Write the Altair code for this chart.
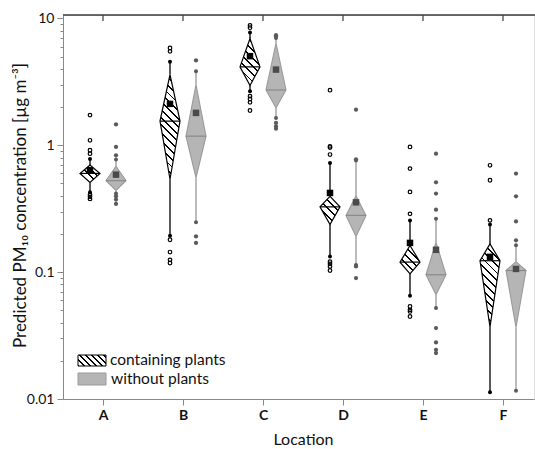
import json
import altair as alt
import numpy as np
import pandas as pd

# ---------------- data ----------------
locations = ["A", "B", "C", "D", "E", "F"]

# containing plants
p_q1 = [0.51, 0.54, 2.96, 0.237, 0.097, 0.037]
p_med = [0.60, 1.55, 4.15, 0.327, 0.120, 0.123]
p_q3 = [0.70, 3.61, 6.95, 0.396, 0.162, 0.167]
p_mean = [0.635, 2.12, 5.04, 0.421, 0.170, 0.132]
p_wlo = [0.426, 0.194, 2.67, 0.133, 0.065, 0.0113]
p_whi = [0.781, 4.55, 7.75, 0.726, 0.255, 0.237]
p_out = [
    [1.73, 1.095, 0.914, 0.859, 0.408, 0.392, 0.378],
    [5.5, 5.85, 0.18, 0.144, 0.125, 0.118],
    [8.8, 8.45, 2.44, 2.32, 2.18, 1.88],
    [2.72, 0.982, 0.96, 0.845, 0.121, 0.116, 0.111, 0.103],
    [0.971, 0.655, 0.429, 0.288, 0.0536, 0.0505, 0.049, 0.0447],
    [0.695, 0.53, 0.256],
]

# without plants
w_q1 = [0.441, 0.553, 1.97, 0.191, 0.0663, 0.0366]
w_med = [0.526, 1.18, 2.73, 0.280, 0.0953, 0.103]
w_q3 = [0.683, 3.01, 6.4, 0.40, 0.172, 0.121]
w_mean = [0.587, 1.80, 3.95, 0.355, 0.150, 0.106]
w_wlo = [0.416, 0.247, 1.64, 0.114, 0.0521, 0.0116]
w_whi = [0.771, 3.84, 7.0, 0.757, 0.264, 0.163]
w_out = [
    [1.46, 0.971, 0.834, 0.396, 0.373, 0.345],
    [4.66, 0.191, 0.170],
    [7.38, 7.2, 1.50, 1.41, 1.35],
    [1.91, 0.775, 0.111, 0.0898],
    [0.859, 0.511, 0.416, 0.311, 0.0362, 0.0279, 0.0244, 0.023],
    [0.598, 0.396, 0.251, 0.178],
]

group_names = ["containing plants", "without plants"]
y_title = "Predicted PM₁₀ concentration [µg m⁻³]"
x_title = "Location"

# ---------------- layout / style ----------------
W, H = 471, 384
PX_PER_CAT = 80.0
X_DOM = [0.5, 0.5 + W / PX_PER_CAT]
Y_DOM = [0.01, 10.64]
DEC_PX = H / np.log10(Y_DOM[1] / Y_DOM[0])
OFF = {"containing plants": -0.1625, "without plants": 0.1625}
HALF = 0.125
FONT = "Lato"
AX_COL = "#3a3a3a"
GRAY_FILL = "#b5b5b5"
GRAY_EDGE = "#9a9a9a"
GRAY_MED = "#8a8a8a"
GRAY_WHISK = "#ababab"
GRAY_DOT = "#5a5a5a"

stats = {
    "containing plants": (p_q1, p_med, p_q3, p_mean, p_wlo, p_whi, p_out),
    "without plants": (w_q1, w_med, w_q3, w_mean, w_wlo, w_whi, w_out),
}

stat_rows, dia_rows, out_rows = [], [], []
for g in group_names:
    q1, med, q3, mn, wlo, whi, outs = stats[g]
    for i, loc in enumerate(locations):
        xc = i + 1 + OFF[g]
        stat_rows.append(dict(group=g, loc=loc, xc=xc, xl=xc - HALF, xr=xc + HALF,
                              q1=q1[i], med=med[i], q3=q3[i], mean=mn[i],
                              wlo=wlo[i], whi=whi[i]))
        for yv, a, b in [(q1[i], xc, xc), (med[i], xc - HALF, xc + HALF), (q3[i], xc, xc)]:
            dia_rows.append(dict(group=g, loc=loc, y=yv, xl=a, xr=b))
        for v in outs[i]:
            out_rows.append(dict(group=g, loc=loc, xc=xc, v=v))

stat_df = pd.DataFrame(stat_rows)
dia_df = pd.DataFrame(dia_rows)
out_df = pd.DataFrame(out_rows)
cat_df = pd.DataFrame({"loc": locations, "pos": np.arange(1, len(locations) + 1)})

is_major = "abs(log(datum.value)/LN10 - round(log(datum.value)/LN10)) < 0.001"
y_vals = sorted([0.01, 0.1, 1.0, 10.0] +
                [round(k * 10.0 ** e, 4) for e in (-2, -1, 0) for k in range(2, 10)])

xscale = alt.Scale(domain=X_DOM, nice=False, zero=False)
yscale = alt.Scale(type="log", domain=Y_DOM, nice=False)
xaxis = alt.Axis(values=list(range(1, len(locations) + 1)),
                 labelExpr=json.dumps(locations) + "[datum.value-1]",
                 labelFontWeight="bold", labelFontSize=14, labelFont=FONT,
                 labelColor="#111", labelPadding=3, tickSize=6,
                 title=x_title, titleFontSize=16, titleFont=FONT,
                 titleFontWeight="normal", titleColor="#111", titleX=240, titleY=40,
                 titleBaseline="middle", grid=False)
yaxis = alt.Axis(values=y_vals, format="~g", labelExpr=is_major + " ? datum.label : ''",
                 tickSize={"condition": {"test": is_major, "value": 6}, "value": 3},
                 labelFontSize=14, labelFont=FONT, labelColor="#111", labelPadding=3,
                 labelOverlap=False,
                 title=y_title, titleFontSize=17, titleFont=FONT, titleFontWeight="normal",
                 titleColor="#111", titleX=-43, titleY=190, titleAngle=270,
                 titleAlign="center", titleBaseline="middle", grid=False)


def X(f, **kw):
    return alt.X(f"{f}:Q", scale=xscale, axis=xaxis, title=x_title, **kw)


def Y(f):
    return alt.Y(f"{f}:Q", scale=yscale, axis=yaxis, title=y_title)


def hatch(w, h, p=5.5, frac=0.24):
    s = (w + h) / (w * w + h * h)
    n = (w + h) / (np.sqrt(2) * p)
    stops = []
    k = 0
    while k / n < 1:
        a = round(k / n, 5)
        b = round(min((k + frac) / n, 1.0), 5)
        c = round(min((k + 1) / n, 1.0), 5)
        stops += [{"offset": a, "color": "black"}, {"offset": b, "color": "black"},
                  {"offset": b, "color": "white"}, {"offset": c, "color": "white"}]
        k += 1
    return {"gradient": "linear", "x1": 0, "y1": 1, "x2": round(s * w, 5),
            "y2": round(1 - s * h, 5), "stops": stops}


layers = []

# whiskers
for g, col, sw in [("containing plants", "black", 1.3), ("without plants", GRAY_WHISK, 1.6)]:
    base = alt.Chart(stat_df).transform_filter(alt.datum.group == g)
    layers.append(base.mark_rule(color=col, strokeWidth=sw).encode(
        x=X("xc"), y=Y("q3"), y2="whi:Q"))
    layers.append(base.mark_rule(color=col, strokeWidth=sw).encode(
        x=X("xc"), y=Y("q1"), y2="wlo:Q"))

# gray diamonds
for i, loc in enumerate(locations):
    layers.append(alt.Chart(dia_df)
                  .transform_filter((alt.datum.group == "without plants") & (alt.datum.loc == loc))
                  .mark_area(orient="horizontal", fill=GRAY_FILL, fillOpacity=1,
                             stroke=GRAY_EDGE, strokeWidth=1.1)
                  .encode(y=Y("y"), x=X("xl", stack=None), x2="xr:Q"))

# hatched diamonds (one gradient per diamond, sized to the diamond's pixel box)
for i, loc in enumerate(locations):
    hpx = DEC_PX * np.log10(p_q3[i] / p_q1[i])
    wpx = 2 * HALF * PX_PER_CAT
    layers.append(alt.Chart(dia_df)
                  .transform_filter((alt.datum.group == "containing plants") & (alt.datum.loc == loc))
                  .mark_area(orient="horizontal", fill=hatch(wpx, hpx), fillOpacity=1,
                             stroke="black", strokeWidth=1.2)
                  .encode(y=Y("y"), x=X("xl", stack=None), x2="xr:Q"))

# median lines
for g, col in [("containing plants", "black"), ("without plants", GRAY_MED)]:
    layers.append(alt.Chart(stat_df).transform_filter(alt.datum.group == g)
                  .mark_rule(color=col, strokeWidth=1.2)
                  .encode(x=X("xl"), x2="xr:Q", y=Y("med")))

# whisker end dots
for g, col in [("containing plants", "black"), ("without plants", GRAY_DOT)]:
    base = alt.Chart(stat_df).transform_filter(alt.datum.group == g)
    for f in ["whi", "wlo"]:
        layers.append(base.mark_circle(color=col, size=16, opacity=1)
                      .encode(x=X("xc"), y=Y(f)))

# outliers
layers.append(alt.Chart(out_df).transform_filter(alt.datum.group == "containing plants")
              .mark_point(shape="circle", filled=False, color="black", size=13,
                          strokeWidth=1.2, opacity=1)
              .encode(x=X("xc"), y=Y("v")))
layers.append(alt.Chart(out_df).transform_filter(alt.datum.group == "without plants")
              .mark_circle(color=GRAY_DOT, size=18, opacity=1)
              .encode(x=X("xc"), y=Y("v")))

# means
for g, col in [("containing plants", "black"), ("without plants", "#4a4a4a")]:
    layers.append(alt.Chart(stat_df).transform_filter(alt.datum.group == g)
                  .mark_square(color=col, size=42, opacity=1)
                  .encode(x=X("xc"), y=Y("mean")))

# top frame line and inward ticks
one = pd.DataFrame({"k": [0]})
layers.append(alt.Chart(one).mark_rule(color=AX_COL, strokeWidth=1.5)
              .encode(x=alt.value(0), x2=alt.value(W + 2), y=alt.value(0)))
layers.append(alt.Chart(cat_df).mark_rule(color=AX_COL, strokeWidth=1.2)
              .encode(x=alt.X("pos:Q", scale=xscale, axis=xaxis, title=x_title),
                      y=alt.value(0), y2=alt.value(6)))

# legend
leg_df = pd.DataFrame({"label": group_names})
layers.append(alt.Chart(one).mark_rect(fill=hatch(28, 11, p=4.2, frac=0.26), stroke="black",
                                       strokeWidth=1)
              .encode(x=alt.value(15), x2=alt.value(43), y=alt.value(340), y2=alt.value(351)))
layers.append(alt.Chart(one).mark_rect(fill=GRAY_FILL, stroke=GRAY_EDGE, strokeWidth=1)
              .encode(x=alt.value(15), x2=alt.value(43), y=alt.value(358), y2=alt.value(370)))
layers.append(alt.Chart(leg_df).transform_filter(alt.datum.label == group_names[0])
              .mark_text(align="left", baseline="middle", fontSize=15.5, font=FONT, color="#111")
              .encode(x=alt.value(47), y=alt.value(345), text="label:N"))
layers.append(alt.Chart(leg_df).transform_filter(alt.datum.label == group_names[1])
              .mark_text(align="left", baseline="middle", fontSize=15.5, font=FONT, color="#111")
              .encode(x=alt.value(48), y=alt.value(364), text="label:N"))

chart = (alt.layer(*layers)
         .properties(width=W, height=H, autosize=alt.AutoSizeParams(type="none"),
                     padding={"left": 63, "top": 15, "right": 1, "bottom": 50})
         .configure_view(stroke=None)
         .configure_axis(domainColor=AX_COL, domainWidth=1.5, tickColor=AX_COL, tickWidth=1.2)
         .configure(background="white"))

chart.save("out.html", embed_options={"renderer": "svg", "actions": False})
